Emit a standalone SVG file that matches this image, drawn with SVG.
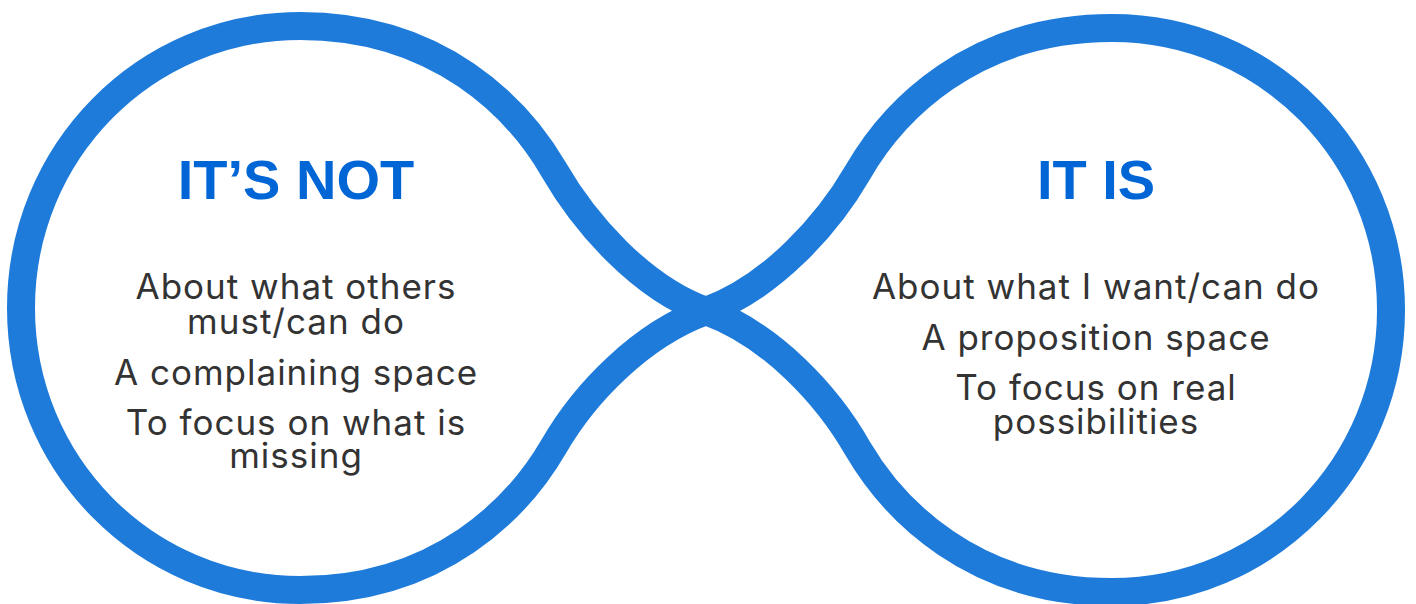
<svg xmlns="http://www.w3.org/2000/svg" width="1416" height="604" viewBox="0 0 1416 604">
<style>
.ring{fill:none;stroke:#1e7bda;stroke-width:28;stroke-linejoin:round}
.title{font-family:"Liberation Sans",Arial,sans-serif;font-weight:bold;font-size:56px;fill:#0066d6;text-anchor:middle}
.body{font-family:Inter,"DejaVu Sans",sans-serif;font-size:35px;letter-spacing:1px;fill:#333333;text-anchor:middle}
</style>
<rect width="1416" height="604" fill="#ffffff"/>
<g id="connectors">
<path class="ring" d="M706 311 C640.2 287.2 584 222 554 170 C519 109.4 440 26 300 26 C145 26 21 152 21 308 C21 464 145 590 300 590 C440 590 519 506.6 554 446 C584 394 640.2 334.8 706 311 C771.8 287.2 828 224 858 172 C893 111.4 972 28 1112 28 C1267 28 1391 154 1391 310 C1391 466 1267 592 1112 592 C972 592 893 508.6 858 449 C828 396 771.8 334.8 706 311 Z"/>
</g>
<g id="node-its-not">
<text class="title" x="296" y="199">IT’S NOT</text>
<text class="body" x="296" y="299">About what others</text>
<text class="body" x="296" y="334">must/can do</text>
<text class="body" x="296" y="385">A complaining space</text>
<text class="body" x="296" y="435">To focus on what is</text>
<text class="body" x="296" y="468">missing</text>
</g>
<g id="node-it-is">
<text class="title" x="1096" y="199">IT IS</text>
<text class="body" x="1096" y="299">About what I want/can do</text>
<text class="body" x="1096" y="350">A proposition space</text>
<text class="body" x="1096" y="400">To focus on real</text>
<text class="body" x="1096" y="434">possibilities</text>
</g>
</svg>
